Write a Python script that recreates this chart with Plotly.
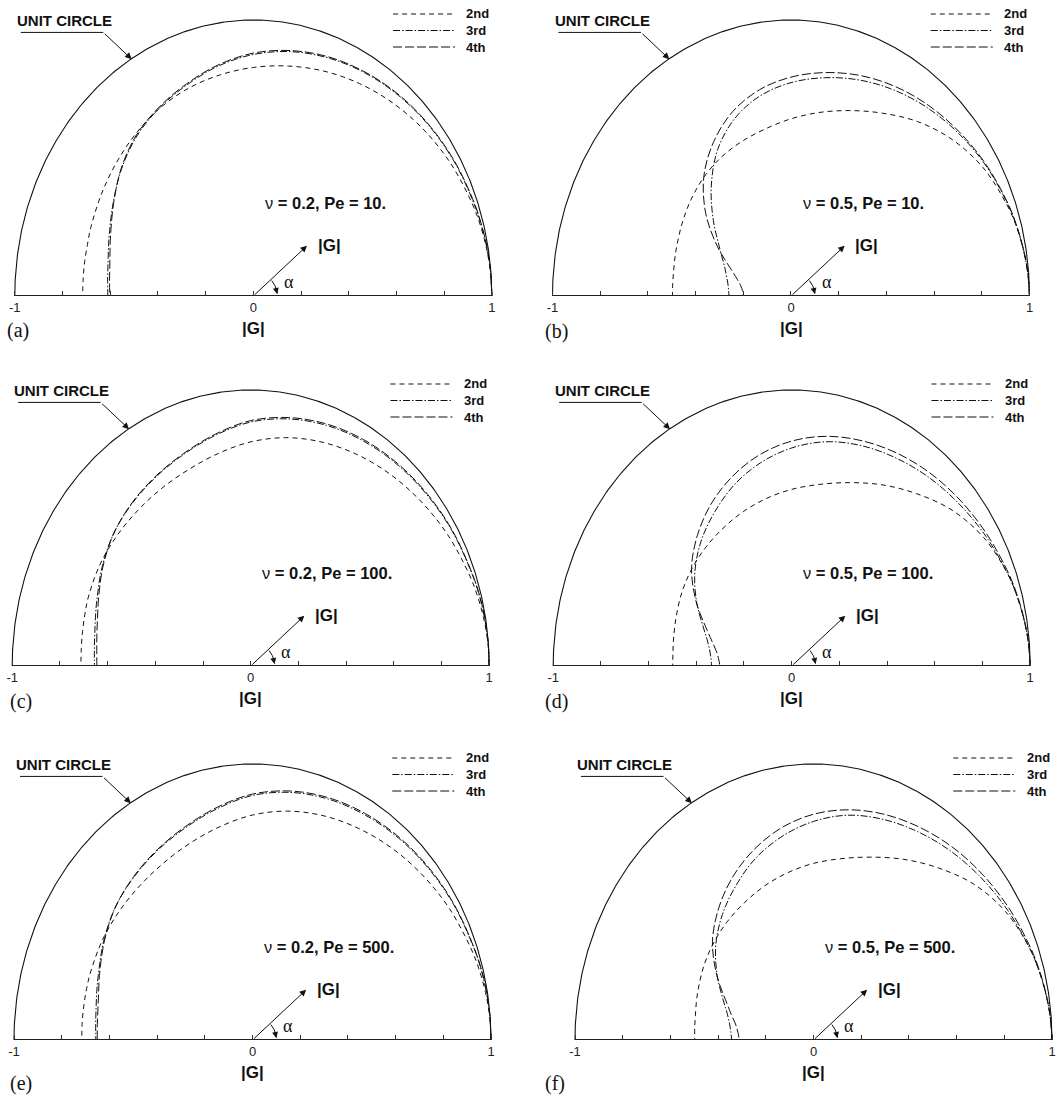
import numpy as np
import plotly.graph_objects as go

# ---------------------------------------------------------------------------
# Amplification factor |G| of the 2nd, 3rd and 4th order schemes, sampled at
# phase angles alpha (degrees). Drawn as the locus G = |G| exp(i alpha).
# ---------------------------------------------------------------------------
alpha_deg = [0, 5, 10, 15, 20, 30, 40, 50, 60, 70, 80, 90, 100, 110, 120,
             130, 140, 150, 160, 165, 170, 175, 180]

# (a) nu = 0.2, Pe = 10
g_a_2nd = [1.0, 0.998, 0.993, 0.986, 0.977, 0.957, 0.935, 0.912, 0.889, 0.867, 0.846, 0.828,
           0.813, 0.8, 0.785, 0.767, 0.75, 0.736, 0.725, 0.72, 0.718, 0.716, 0.716]
g_a_3rd = [1.0, 0.999, 0.995, 0.99, 0.984, 0.973, 0.961, 0.948, 0.934, 0.918, 0.899, 0.875,
           0.846, 0.814, 0.787, 0.758, 0.72, 0.678, 0.643, 0.629, 0.619, 0.613, 0.61]
g_a_4th = [1.0, 0.999, 0.996, 0.991, 0.986, 0.975, 0.963, 0.951, 0.937, 0.922, 0.903, 0.88,
           0.85, 0.818, 0.79, 0.762, 0.722, 0.676, 0.637, 0.622, 0.611, 0.605, 0.602]

# (b) nu = 0.5, Pe = 10
g_b_2nd = [1.0, 0.997, 0.989, 0.978, 0.964, 0.93, 0.882, 0.825, 0.765, 0.715, 0.675, 0.642,
           0.615, 0.597, 0.582, 0.565, 0.546, 0.527, 0.511, 0.505, 0.5, 0.498, 0.497]
g_b_3rd = [1.0, 0.996, 0.988, 0.979, 0.968, 0.944, 0.917, 0.89, 0.862, 0.833, 0.803, 0.773,
           0.737, 0.686, 0.614, 0.52, 0.425, 0.345, 0.295, 0.28, 0.269, 0.263, 0.26]
g_b_4th = [1.0, 0.996, 0.989, 0.98, 0.97, 0.947, 0.923, 0.9, 0.876, 0.85, 0.822, 0.793,
           0.759, 0.712, 0.647, 0.568, 0.467, 0.355, 0.262, 0.233, 0.214, 0.204, 0.2]

# (c) nu = 0.2, Pe = 100
g_c_2nd = [1.0, 0.998, 0.992, 0.984, 0.974, 0.953, 0.93, 0.908, 0.886, 0.864, 0.84, 0.812,
           0.782, 0.758, 0.744, 0.736, 0.733, 0.731, 0.725, 0.72, 0.716, 0.713, 0.712]
g_c_3rd = [1.0, 0.999, 0.996, 0.992, 0.986, 0.976, 0.965, 0.954, 0.942, 0.928, 0.909, 0.884,
           0.849, 0.817, 0.792, 0.771, 0.749, 0.719, 0.687, 0.674, 0.664, 0.658, 0.655]
g_c_4th = [1.0, 0.999, 0.997, 0.993, 0.987, 0.978, 0.968, 0.958, 0.947, 0.933, 0.914, 0.889,
           0.853, 0.82, 0.795, 0.773, 0.749, 0.716, 0.68, 0.665, 0.655, 0.648, 0.645]

# (d) nu = 0.5, Pe = 100
g_d_2nd = [1.0, 0.996, 0.988, 0.978, 0.966, 0.93, 0.878, 0.815, 0.758, 0.707, 0.668, 0.64,
           0.616, 0.595, 0.576, 0.561, 0.547, 0.532, 0.516, 0.509, 0.504, 0.5, 0.499]
g_d_3rd = [1.0, 0.996, 0.988, 0.978, 0.966, 0.94, 0.915, 0.893, 0.871, 0.85, 0.825, 0.79,
           0.748, 0.7, 0.645, 0.591, 0.53, 0.46, 0.392, 0.367, 0.35, 0.34, 0.336]
g_d_4th = [1.0, 0.996, 0.989, 0.98, 0.97, 0.948, 0.928, 0.909, 0.889, 0.868, 0.845, 0.815,
           0.777, 0.73, 0.677, 0.616, 0.548, 0.462, 0.377, 0.346, 0.322, 0.308, 0.301]

# (e) nu = 0.2, Pe = 500
g_e_2nd = [1.0, 0.998, 0.992, 0.984, 0.974, 0.953, 0.93, 0.908, 0.886, 0.865, 0.842, 0.815,
           0.785, 0.76, 0.742, 0.732, 0.728, 0.726, 0.722, 0.72, 0.718, 0.717, 0.716]
g_e_3rd = [1.0, 0.999, 0.996, 0.992, 0.986, 0.976, 0.965, 0.954, 0.942, 0.929, 0.911, 0.886,
           0.851, 0.819, 0.794, 0.772, 0.75, 0.72, 0.688, 0.676, 0.666, 0.66, 0.657]
g_e_4th = [1.0, 0.999, 0.997, 0.993, 0.987, 0.978, 0.968, 0.958, 0.947, 0.934, 0.916, 0.891,
           0.856, 0.823, 0.797, 0.774, 0.75, 0.717, 0.683, 0.668, 0.658, 0.653, 0.651]

# (f) nu = 0.5, Pe = 500
g_f_2nd = [1.0, 0.996, 0.988, 0.978, 0.966, 0.93, 0.878, 0.814, 0.756, 0.705, 0.667, 0.64,
           0.616, 0.595, 0.576, 0.561, 0.547, 0.532, 0.516, 0.509, 0.503, 0.5, 0.498]
g_f_3rd = [1.0, 0.996, 0.988, 0.978, 0.966, 0.94, 0.916, 0.894, 0.872, 0.851, 0.827, 0.792,
           0.75, 0.703, 0.648, 0.594, 0.535, 0.466, 0.4, 0.375, 0.358, 0.348, 0.343]
g_f_4th = [1.0, 0.996, 0.989, 0.98, 0.97, 0.949, 0.929, 0.91, 0.89, 0.87, 0.847, 0.818,
           0.78, 0.733, 0.68, 0.62, 0.553, 0.468, 0.386, 0.357, 0.332, 0.318, 0.311]

orders = ["2nd", "3rd", "4th"]
panel_tags = ["(a)", "(b)", "(c)", "(d)", "(e)", "(f)"]
case_nu = ["0.2", "0.5", "0.2", "0.5", "0.2", "0.5"]
case_pe = ["10.", "10.", "100.", "100.", "500.", "500."]
gains = [
    [g_a_2nd, g_a_3rd, g_a_4th],
    [g_b_2nd, g_b_3rd, g_b_4th],
    [g_c_2nd, g_c_3rd, g_c_4th],
    [g_d_2nd, g_d_3rd, g_d_4th],
    [g_e_2nd, g_e_3rd, g_e_4th],
    [g_f_2nd, g_f_3rd, g_f_4th],
]
tick_vals = [-1, -0.8, -0.6, -0.4, -0.2, 0, 0.2, 0.4, 0.6, 0.8, 1]
tick_text = ["-1", "", "", "", "", "0", "", "", "", "", "1"]

# ---------------------------------------------------------------------------
# Page geometry and styles
# ---------------------------------------------------------------------------
W, H = 1061, 1095
RX, RY = 238.5, 276.0            # pixels per unit along x and y
X_RANGE = [-1.03, 1.03]
Y_RANGE = [0.0, 1.06]
origins = [(253.3, 296), (791.0, 296), (250.7, 666), (791.7, 666), (252.5, 1040), (813.5, 1040)]
tag_pos = [(5, 330), (543, 331), (8, 701), (543, 701), (8, 1083), (543, 1083)]

dash_of = {"2nd": "5px,4px", "3rd": "7px,2px,1.5px,2px", "4th": "9px,3px"}
INK = "#111111"
SANS = "Liberation Sans, Arial, Helvetica, sans-serif"
SERIF = "Liberation Serif, Times New Roman, serif"

fig = go.Figure()
shapes, annotations = [], []

alpha = np.deg2rad(np.array(alpha_deg, dtype=float))
t_circle = np.linspace(0.0, np.pi, 361)

for i in range(6):
    s = "" if i == 0 else str(i + 1)
    xa, ya = "x" + s, "y" + s
    cx, cy = origins[i]

    fig.layout["xaxis" + s] = dict(
        domain=[(cx + X_RANGE[0] * RX) / W, (cx + X_RANGE[1] * RX) / W],
        range=X_RANGE, anchor=ya, showgrid=False, zeroline=False, showline=False,
        ticks="inside", ticklen=5, tickwidth=1, tickcolor="#333333",
        tickmode="array", tickvals=tick_vals, ticktext=tick_text,
        tickfont=dict(family=SANS, size=13, color="#222222"),
        ticklabelstandoff=2, fixedrange=True,
    )
    fig.layout["yaxis" + s] = dict(
        domain=[1 - (cy - Y_RANGE[0] * RY) / H, 1 - (cy - Y_RANGE[1] * RY) / H],
        range=Y_RANGE, anchor=xa, visible=False, fixedrange=True,
    )

    # unit circle
    fig.add_trace(go.Scatter(
        x=np.cos(t_circle), y=np.sin(t_circle), xaxis=xa, yaxis=ya, mode="lines",
        line=dict(color=INK, width=1.1), hoverinfo="skip", showlegend=False))

    # |G| loci of the three schemes
    for k, order in enumerate(orders):
        g = np.array(gains[i][k], dtype=float)
        fig.add_trace(go.Scatter(
            x=g * np.cos(alpha), y=g * np.sin(alpha), xaxis=xa, yaxis=ya,
            mode="lines", name=order, line=dict(color=INK, width=1, dash=dash_of[order],
                                                shape="spline", smoothing=1.0),
            showlegend=False))

    # alpha arc near the origin
    t_arc = np.deg2rad(np.linspace(40, 6, 30))
    fig.add_trace(go.Scatter(
        x=24 * np.cos(t_arc) / RX, y=24 * np.sin(t_arc) / RY, xaxis=xa, yaxis=ya,
        mode="lines", line=dict(color=INK, width=1), hoverinfo="skip", showlegend=False))

    # baseline
    shapes.append(dict(type="line", xref=xa, yref=ya, x0=-1, x1=1, y0=0, y1=0,
                       line=dict(color="#222222", width=2)))
    # leader of the unit-circle label
    shapes.append(dict(type="line", xref=xa, yref=ya, x0=-0.975, x1=-0.629, y0=0.955, y1=0.955,
                       line=dict(color=INK, width=1)))
    # legend keys
    for k, order in enumerate(orders):
        ly = [1.022, 0.962, 0.902][k]
        shapes.append(dict(type="line", xref=xa, yref=ya, x0=0.586, x1=0.846, y0=ly, y1=ly,
                           line=dict(color=INK, width=1.1, dash=dash_of[order])))
        annotations.append(dict(xref=xa, yref=ya, x=0.885, y=ly, text=order, showarrow=False,
                                xanchor="left", yanchor="middle",
                                font=dict(family=SANS, size=13, color=INK, weight="bold")))

    annotations += [
        dict(xref=xa, yref=ya, x=-1.0, y=0.997, text="UNIT CIRCLE", showarrow=False,
             xanchor="left", yanchor="middle",
             font=dict(family=SANS, size=15, color=INK, weight="bold")),
        dict(xref=xa, yref=ya, axref=xa, ayref=ya, x=-0.51, y=0.858, ax=-0.629, ay=0.955,
             text="", showarrow=True, arrowhead=2, arrowsize=1.3, arrowwidth=1,
             arrowcolor=INK, standoff=0),
        dict(xref=xa, yref=ya, x=0.04, y=0.338,
             text=f"\u03bd<b> = {case_nu[i]}, Pe = {case_pe[i]}</b>", showarrow=False,
             xanchor="left", yanchor="middle",
             font=dict(family=SANS, size=16.5, color=INK)),
        dict(xref=xa, yref=ya, axref=xa, ayref=ya, x=0.225, y=0.182, ax=0, ay=0,
             text="", showarrow=True, arrowhead=2, arrowsize=1.3, arrowwidth=1,
             arrowcolor=INK, standoff=0),
        dict(xref=xa, yref=ya, x=0.262, y=0.183, text="|G|", showarrow=False,
             xanchor="left", yanchor="middle",
             font=dict(family=SANS, size=17, color=INK, weight="bold")),
        dict(xref=xa, yref=ya, axref=xa, ayref=ya,
             x=24 * np.cos(np.deg2rad(5)) / RX, y=24 * np.sin(np.deg2rad(5)) / RY,
             ax=24 * np.cos(np.deg2rad(22)) / RX, ay=24 * np.sin(np.deg2rad(22)) / RY,
             text="", showarrow=True, arrowhead=2, arrowsize=1, arrowwidth=1.2,
             arrowcolor=INK, standoff=0),
        dict(xref=xa, yref=ya, x=0.15, y=0.05, text="\u03b1", showarrow=False,
             xanchor="center", yanchor="middle",
             font=dict(family=SERIF, size=18, color=INK)),
        # axis title under the origin
        dict(xref="paper", yref="paper", x=cx / W, y=1 - (cy + 32) / H, text="|G|",
             showarrow=False, xanchor="center", yanchor="middle",
             font=dict(family=SANS, size=17, color=INK, weight="bold")),
        dict(xref="paper", yref="paper", x=tag_pos[i][0] / W, y=1 - tag_pos[i][1] / H,
             text=panel_tags[i], showarrow=False, xanchor="left", yanchor="middle",
             font=dict(family=SERIF, size=20, color=INK)),
    ]

fig.update_layout(
    width=W, height=H, margin=dict(l=0, r=0, t=0, b=0),
    paper_bgcolor="white", plot_bgcolor="white",
    shapes=shapes, annotations=annotations, showlegend=False,
)

fig.write_html("out.html")
